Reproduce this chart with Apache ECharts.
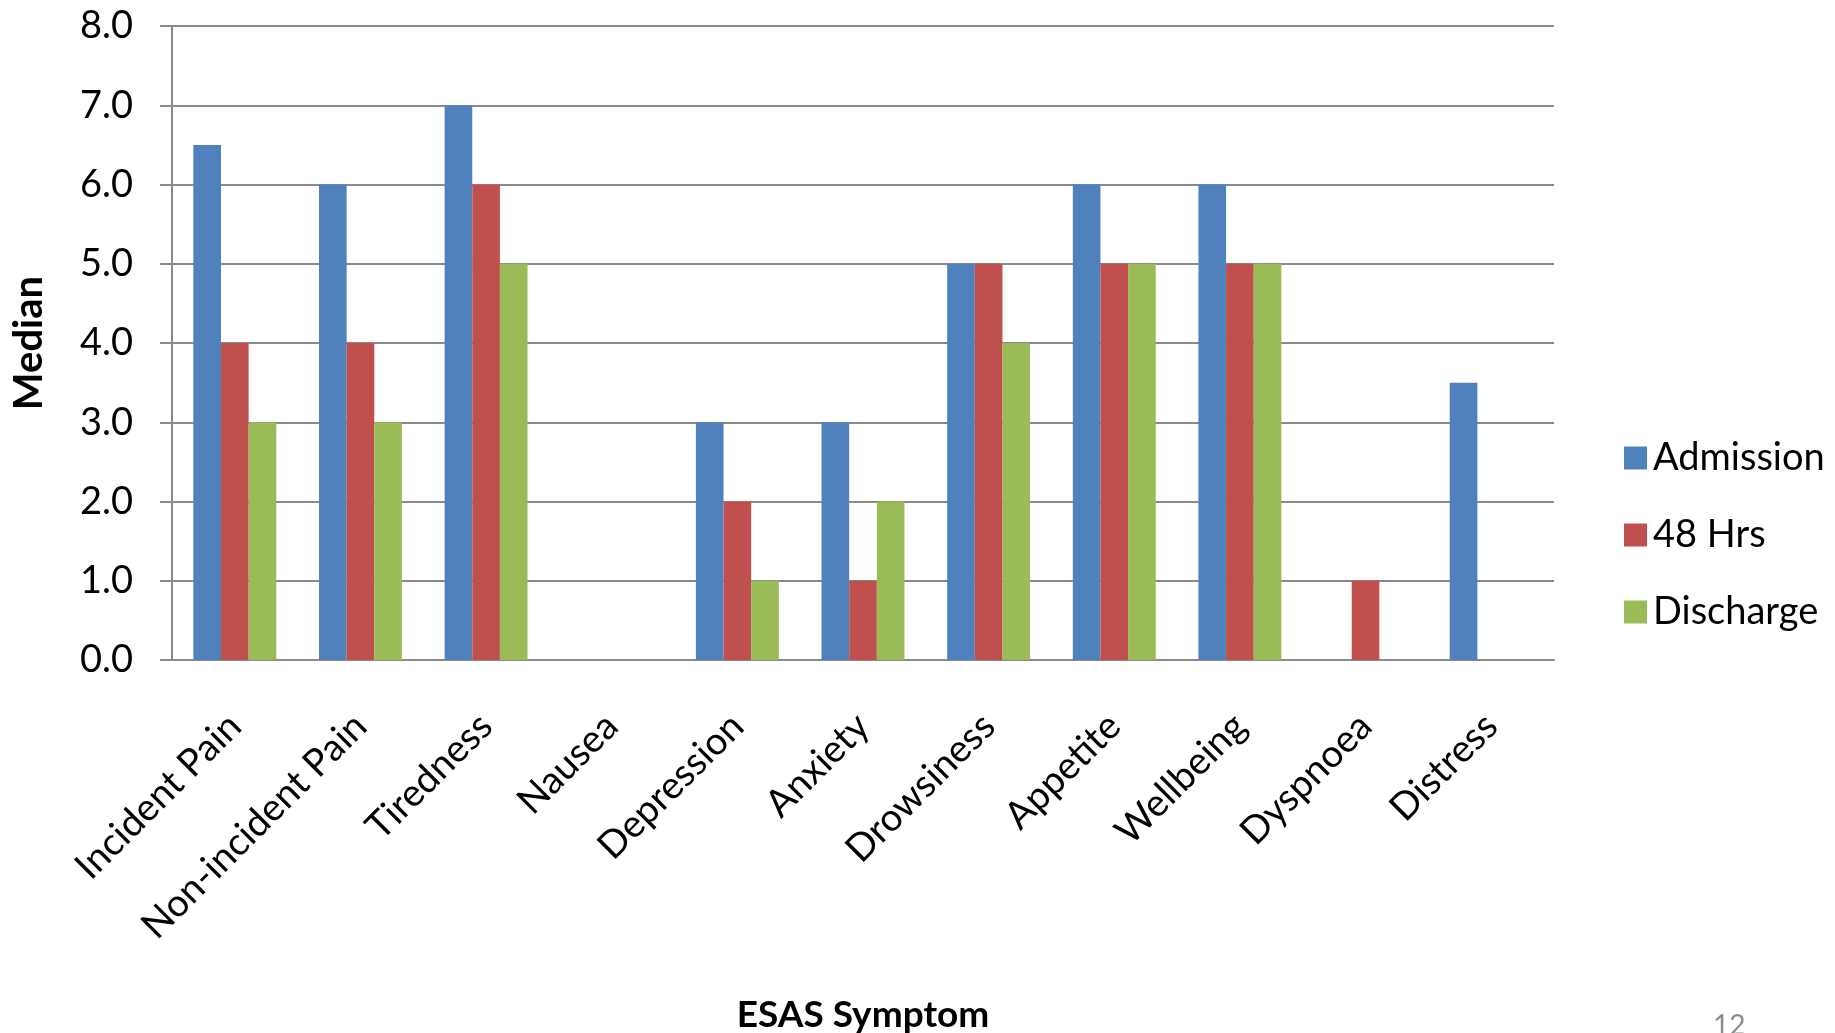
<!DOCTYPE html>
<html>
<head>
<meta charset="utf-8">
<title>ESAS Symptom Medians</title>
<script src="https://cdn.jsdelivr.net/npm/echarts@6/dist/echarts.min.js"></script>
<style>
  html, body { margin: 0; padding: 0; background: #ffffff; }
  #chart { width: 1835px; height: 1033px; }
</style>
</head>
<body>
<div id="chart"></div>
<script>
// ESAS symptom categories
const symptoms = [
  'Incident Pain', 'Non-incident Pain', 'Tiredness', 'Nausea', 'Depression',
  'Anxiety', 'Drowsiness', 'Appetite', 'Wellbeing', 'Dyspnoea', 'Distress'
];

// Median scores at each assessment point
const admission = [6.5, 6, 7, 0, 3, 3, 5, 6, 6, 0, 3.5];
const hrs48     = [4, 4, 6, 0, 2, 1, 5, 5, 5, 1, 0];
const discharge = [3, 3, 5, 0, 1, 2, 4, 5, 5, 0, 0];

const seriesNames = ['Admission', '48 Hrs', 'Discharge'];
const seriesColors = ['#4F81BD', '#C0504D', '#9BBB59'];

const FONT = 'Lato, "Open Sans", sans-serif';
const GRID_COLOR = '#8a8a8a';

const chart = echarts.init(document.getElementById('chart'), null, { renderer: 'canvas' });

const dataSets = [admission, hrs48, discharge];

chart.setOption({
  animation: false,
  backgroundColor: '#ffffff',
  textStyle: { fontFamily: FONT, color: '#000' },
  grid: { left: 172, top: 26, right: 281, bottom: 373, containLabel: false, outerBoundsMode: 'none' },
  legend: {
    orient: 'vertical',
    left: 1619,
    top: 434,
    itemWidth: 23,
    itemHeight: 23,
    itemGap: 39,
    icon: 'rect',
    textStyle: { fontFamily: FONT, fontSize: 38, color: '#000', lineHeight: 38, padding: [0, 0, 0, 1] },
    data: seriesNames
  },
  xAxis: {
    type: 'category',
    data: symptoms,
    name: 'ESAS Symptom',
    nameLocation: 'middle',
    nameGap: 337,
    nameTextStyle: { fontFamily: FONT, fontSize: 37, fontWeight: 'bold', color: '#000' },
    axisLine: { show: true, lineStyle: { color: GRID_COLOR, width: 2 } },
    axisTick: { show: false },
    axisLabel: {
      rotate: 45,
      interval: 0,
      margin: 60,
      fontFamily: FONT,
      fontSize: 38,
      color: '#000'
    },
    splitLine: { show: false }
  },
  yAxis: {
    type: 'value',
    min: 0,
    max: 8,
    interval: 1,
    name: 'Median',
    nameLocation: 'middle',
    nameRotate: 90,
    nameGap: 123,
    nameTextStyle: { fontFamily: FONT, fontSize: 40, fontWeight: 'bold', color: '#000' },
    axisLine: { show: true, lineStyle: { color: GRID_COLOR, width: 2 } },
    axisTick: { show: true, inside: false, length: 12, lineStyle: { color: GRID_COLOR, width: 2 } },
    axisLabel: {
      margin: 39,
      fontFamily: FONT,
      fontSize: 38,
      color: '#000',
      formatter: v => v.toFixed(1)
    },
    splitLine: { show: true, lineStyle: { color: GRID_COLOR, width: 2 } }
  },
  series: dataSets.map((d, i) => ({
    name: seriesNames[i],
    type: 'bar',
    data: d,
    barGap: '0%',
    barCategoryGap: '34%',
    itemStyle: { color: seriesColors[i] }
  })),
  graphic: [
    {
      type: 'text',
      left: 1713,
      top: 1012,
      style: { text: '12', font: '28px ' + FONT, fill: '#8c8c8c' }
    }
  ]
});
</script>
</body>
</html>
